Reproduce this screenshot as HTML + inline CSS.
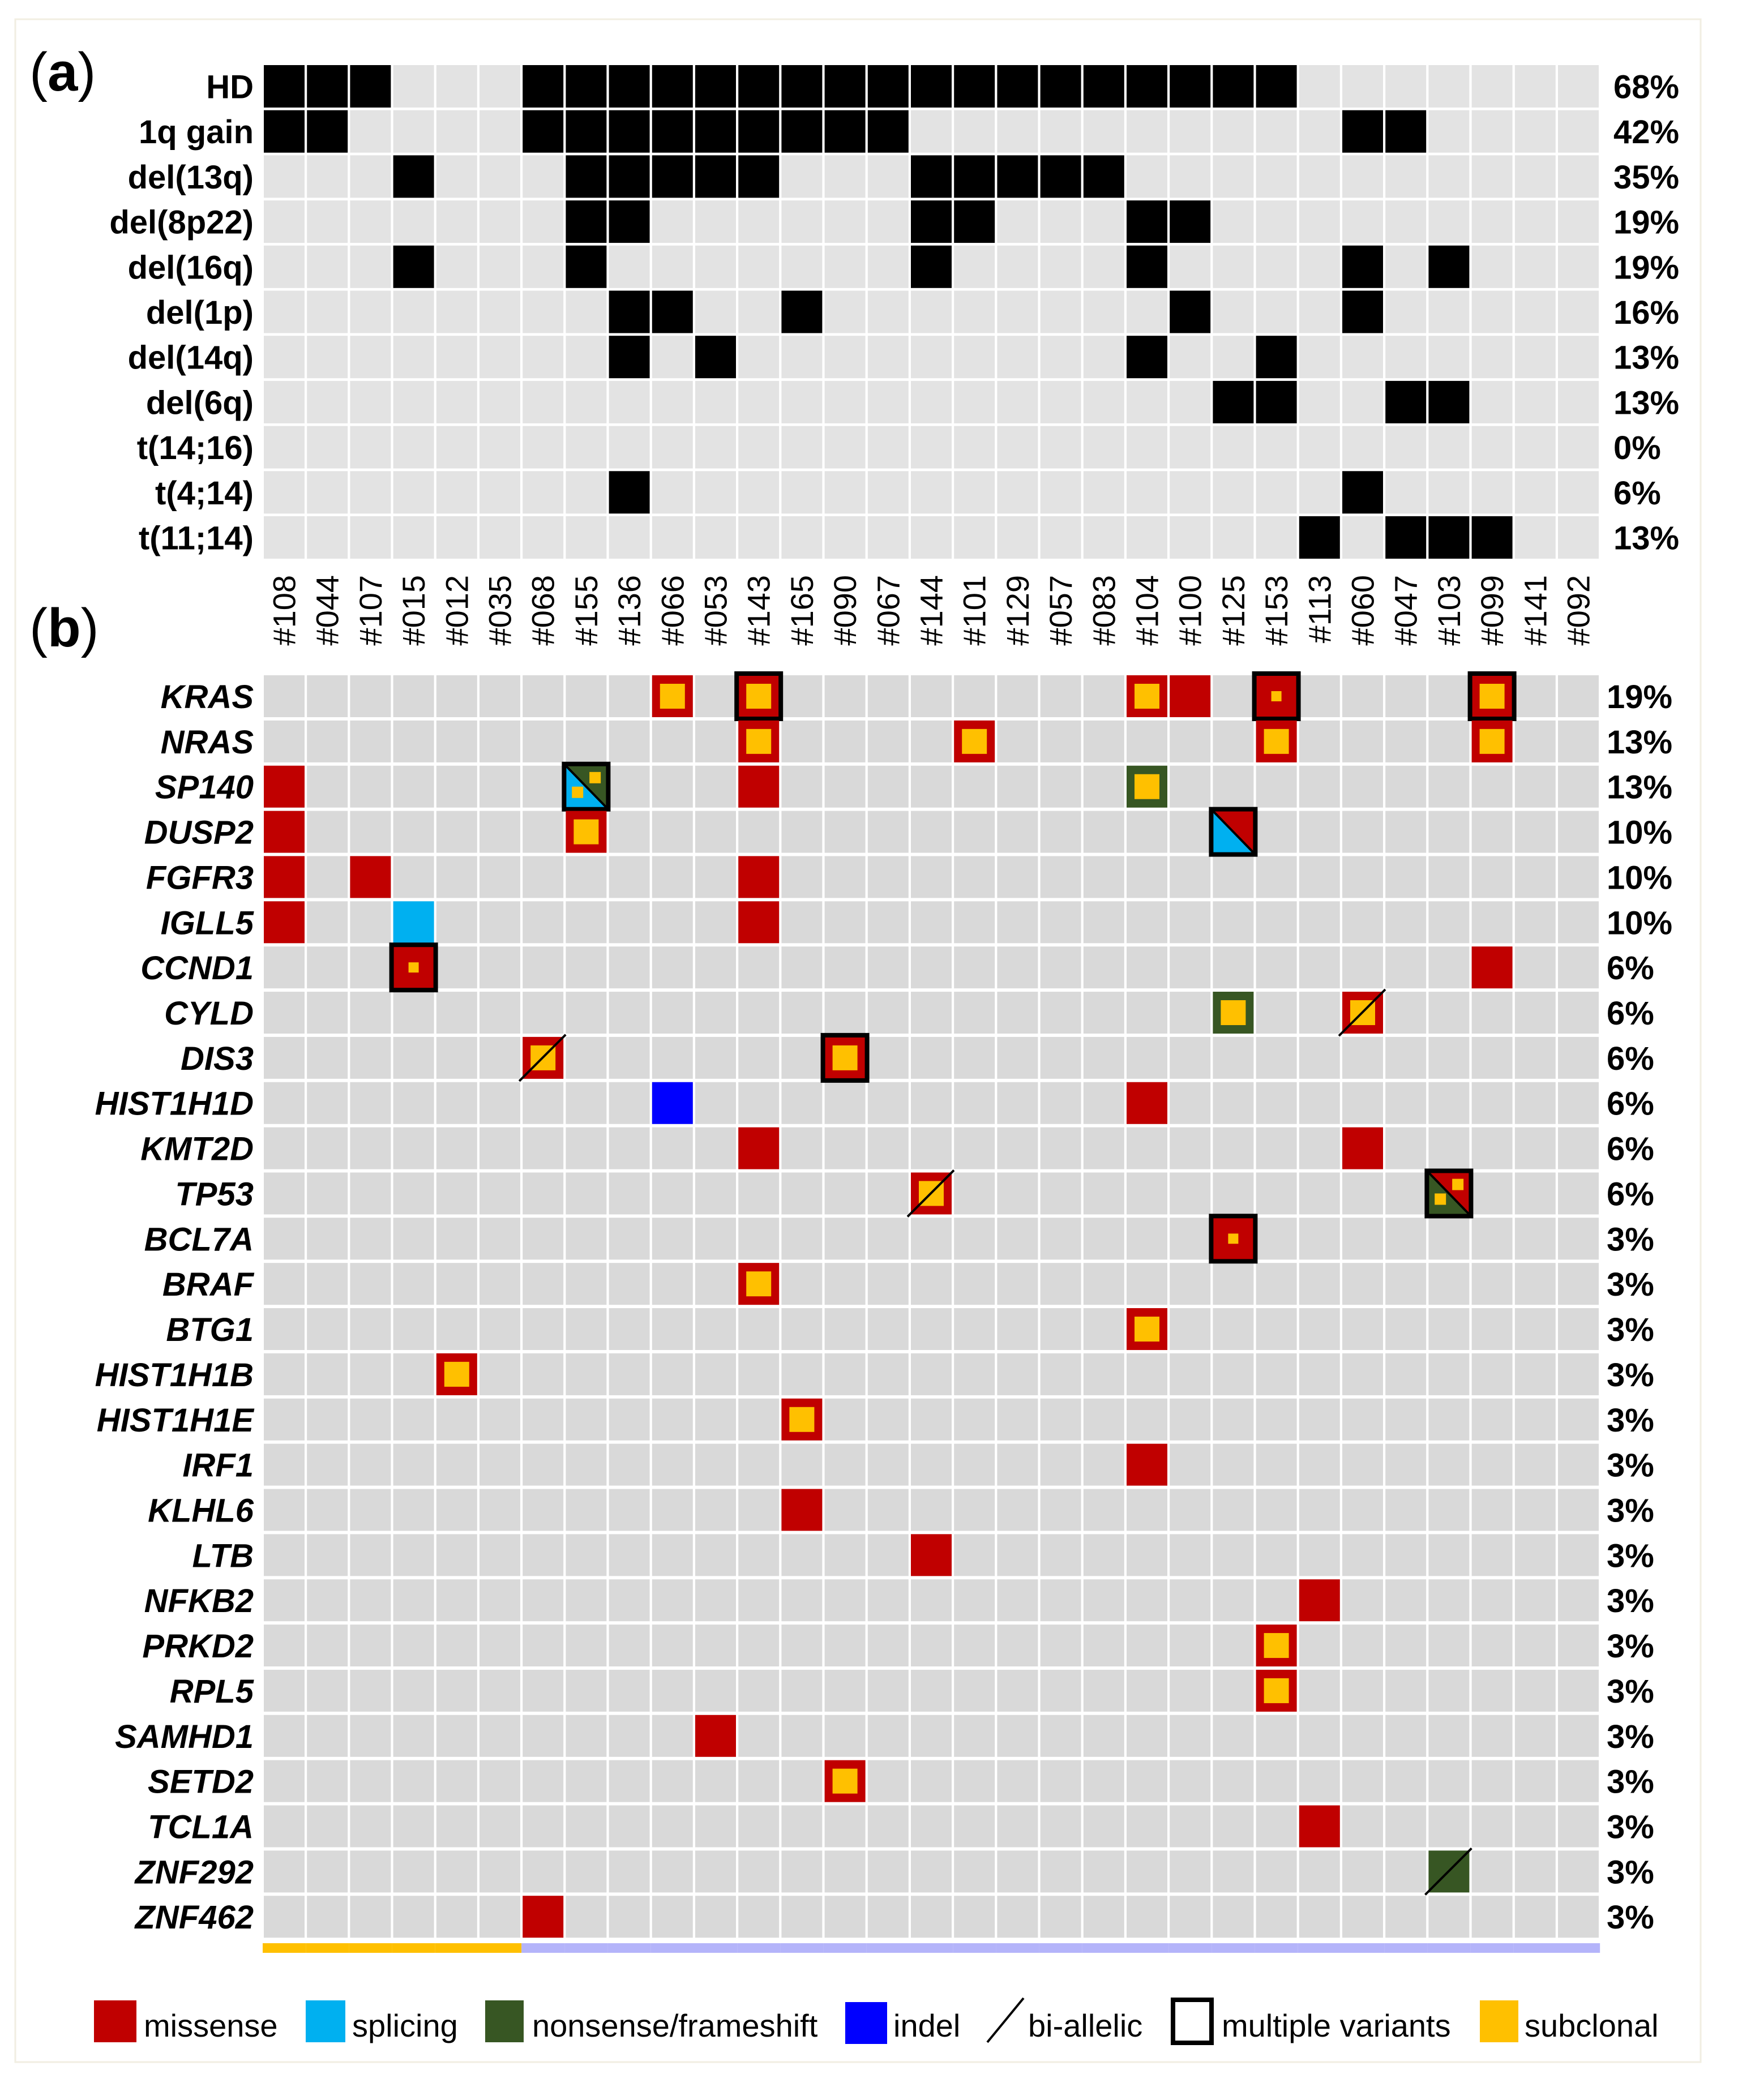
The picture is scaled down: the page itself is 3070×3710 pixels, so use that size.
<!DOCTYPE html>
<html><head><meta charset="utf-8"><style>
html,body{margin:0;padding:0;background:#fff}
svg{display:block}
text{font-family:"Liberation Sans",Arial,sans-serif;fill:#000}
</style></head><body>
<svg id="chart" width="3070" height="3710" viewBox="0 0 3070 3710" xmlns="http://www.w3.org/2000/svg">
<rect x="27" y="34" width="2977" height="3609" fill="#fff" stroke="#f1eee2" stroke-width="3"/>
<text x="52" y="160" font-size="96">(<tspan font-weight="bold">a</tspan>)</text>
<text x="52" y="1142" font-size="96">(<tspan font-weight="bold">b</tspan>)</text>
<g id="ga"></g><g id="gs"></g><g id="gb"></g><g id="gbar"></g>
<g id="legend">
<g><rect x="166" y="3534" width="75" height="74" fill="#c00000"/><text x="254" y="3598" font-size="56">missense</text></g>
<g><rect x="540" y="3534" width="70" height="74" fill="#00b0f0"/><text x="622" y="3598" font-size="56">splicing</text></g>
<g><rect x="857" y="3534" width="68" height="74" fill="#375623"/><text x="940" y="3598" font-size="56">nonsense/frameshift</text></g>
<g><rect x="1493" y="3537" width="74" height="74" fill="#0000ff"/><text x="1578" y="3598" font-size="56">indel</text></g>
<g><line x1="1744" y1="3608" x2="1808" y2="3530" stroke="#000" stroke-width="4"/><text x="1816" y="3598" font-size="56">bi-allelic</text></g>
<g><rect x="2072" y="3533" width="68" height="76" fill="#fff" stroke="#000" stroke-width="8"/><text x="2158" y="3598" font-size="56">multiple variants</text></g>
<g><rect x="2614" y="3534" width="68" height="74" fill="#ffc000"/><text x="2693" y="3598" font-size="56">subclonal</text></g>
</g>
</svg>
<script>
// ---- data ----
const samples = ["#108","#044","#107","#015","#012","#035","#068","#155","#136","#066","#053","#143","#165","#090","#067","#144","#101","#129","#057","#083","#104","#100","#125","#153","#113","#060","#047","#103","#099","#141","#092"];
const cnaLabels = ["HD","1q gain","del(13q)","del(8p22)","del(16q)","del(1p)","del(14q)","del(6q)","t(14;16)","t(4;14)","t(11;14)"];
const cnaHits = [
 [0,1,2,6,7,8,9,10,11,12,13,14,15,16,17,18,19,20,21,22,23],
 [0,1,6,7,8,9,10,11,12,13,14,25,26],
 [3,7,8,9,10,11,15,16,17,18,19],
 [7,8,15,16,20,21],
 [3,7,15,20,25,27],
 [8,9,12,21,25],
 [8,10,20,23],
 [22,23,26,27],
 [],
 [8,25],
 [24,26,27,28]
];
const genes = ["KRAS","NRAS","SP140","DUSP2","FGFR3","IGLL5","CCND1","CYLD","DIS3","HIST1H1D","KMT2D","TP53","BCL7A","BRAF","BTG1","HIST1H1B","HIST1H1E","IRF1","KLHL6","LTB","NFKB2","PRKD2","RPL5","SAMHD1","SETD2","TCL1A","ZNF292","ZNF462"];
// types: M missense, S splicing, N nonsense/frameshift, I indel; "A/B" split cell
// flags: s subclonal, t small subclonal, m multiple variants, b bi-allelic
const mutGene   = [0,0,0,0,0,0, 1,1,1,1, 2,2,2,2, 3,3,3, 4,4,4, 5,5,5, 6,6, 7,7, 8,8, 9,9, 10,10, 11,11, 12,13,14,15,16,17,18,19,20,21,22,23,24,25,26,27];
const mutSample = [9,11,20,21,23,28, 11,16,23,28, 0,7,11,20, 0,7,22, 0,2,11, 0,3,11, 3,28, 22,25, 6,13, 9,20, 11,25, 15,27, 22,11,20,4,12,20,12,15,24,23,23,10,13,24,27,6];
const mutType   = ["M","M","M","M","M","M", "M","M","M","M", "M","S/N","M","N", "M","M","S/M", "M","M","M", "M","S","M", "M","M", "N","M", "M","M", "I","M", "M","M", "M","N/M", "M","M","M","M","M","M","M","M","M","M","M","M","M","M","N","M"];
const mutFlags  = ["s","sm","s","","tm","sm", "s","s","s","s", "","sm","","s", "","s","m", "","","", "","","", "tm","", "s","sb", "sb","sm", "","", "","", "sb","sm", "tm","s","s","s","s","","","","","s","s","","s","","b",""];

// ---- layout ----
const NS="http://www.w3.org/2000/svg";
const X0=466, CP=76.2, CW=71;
const YA=115, RPA=79.7, CHA=75;
const YB=1193, RPB=79.86, CHB=74;
const xOf=i=>X0+i*CP;
const yA=r=>YA+r*RPA;
const yB=r=>YB+r*RPB;
const COL={M:"#c00000",S:"#00b0f0",N:"#375623",I:"#0000ff"};
function mk(tag,attrs,parent){const e=document.createElementNS(NS,tag);for(const k in attrs)e.setAttribute(k,attrs[k]);parent.appendChild(e);return e;}
const pct=(n)=>Math.round(n/samples.length*100)+"%";

// panel a
const ga=document.getElementById('ga');


cnaLabels.forEach((lab,r)=>{
  const t=mk('text',{x:448,y:yA(r)+CHA/2+21,'font-size':58,'font-weight':'bold','text-anchor':'end'},ga);
  t.textContent=lab;
  
  
  samples.forEach((s,c)=>{
    const hit=cnaHits[r].includes(c);
    const rc=mk('rect',{x:xOf(c),y:yA(r),width:CW+1,height:CHA,fill:hit?'#000':'#e3e3e3'},ga);
    
    
  });
  const p=mk('text',{x:2850,y:yA(r)+CHA/2+21,'font-size':58,'font-weight':'bold'},ga);
  p.textContent=pct(cnaHits[r].length);
  
  
});

// sample labels
const gs=document.getElementById('gs');


samples.forEach((s,c)=>{
  const cx=xOf(c)+CW/2+20;
  const t=mk('text',{x:0,y:0,'font-size':56,'text-anchor':'end',transform:`translate(${cx},1016) rotate(-90)`},gs);
  t.textContent=s;
  
  
});

// panel b
const gb=document.getElementById('gb');


genes.forEach((g,r)=>{
  const t=mk('text',{x:448,y:yB(r)+CHB/2+21,'font-size':58,'font-weight':'bold','font-style':'italic','text-anchor':'end'},gb);
  t.textContent=g;
  
  
  samples.forEach((s,c)=>{
    const rc=mk('rect',{x:xOf(c),y:yB(r),width:CW+1,height:CHB,fill:'#d9d9d9'},gb);
    
    
  });
  const n=mutGene.filter(v=>v===r).length;
  const p=mk('text',{x:2838,y:yB(r)+CHB/2+21,'font-size':58,'font-weight':'bold'},gb);
  p.textContent=pct(n);
  
  
});
mutGene.forEach((r,i)=>{
  const c=mutSample[i], ty=mutType[i], fl=mutFlags[i];
  const x=xOf(c), y=yB(r), w=CW+1, h=CHB;
  const g=mk('g',{},gb);
  
  
  if(ty.includes('/')){
    const [a,b]=ty.split('/');
    mk('polygon',{points:`${x},${y} ${x},${y+h} ${x+w},${y+h}`,fill:COL[a]},g);
    mk('polygon',{points:`${x},${y} ${x+w},${y} ${x+w},${y+h}`,fill:COL[b]},g);
    mk('line',{x1:x,y1:y,x2:x+w,y2:y+h,stroke:'#000','stroke-width':4},g);
    if(fl.includes('s')){
      mk('rect',{x:x+w*0.15,y:y+h*0.5,width:20,height:20,fill:'#ffc000'},g);
      mk('rect',{x:x+w*0.58,y:y+h*0.15,width:20,height:20,fill:'#ffc000'},g);
    }
  } else {
    mk('rect',{x:x,y:y,width:w,height:h,fill:COL[ty]},g);
    if(fl.includes('s')) mk('rect',{x:x+(w-44)/2,y:y+(h-44)/2,width:44,height:44,fill:'#ffc000'},g);
    if(fl.includes('t')) mk('rect',{x:x+(w-18)/2,y:y+(h-18)/2,width:18,height:18,fill:'#ffc000'},g);
  }
  if(fl.includes('m')) mk('rect',{x:x-3,y:y-3,width:w+6,height:h+6,fill:'none',stroke:'#000','stroke-width':8},g);
  if(fl.includes('b')) mk('line',{x1:x-6,y1:y+h+4,x2:x+w+4,y2:y-4,stroke:'#000','stroke-width':4},g);
});

// cohort bar
const gbar=document.getElementById('gbar');


const cohortA=[0,1,2,3,4,5];
samples.forEach((s,c)=>{
  const rc=mk('rect',{x:xOf(c)-2,y:3433,width:CP,height:17,fill:cohortA.includes(c)?'#ffc000':'#b4b4fa'},gbar);
  
  
});
</script>
</body></html>
